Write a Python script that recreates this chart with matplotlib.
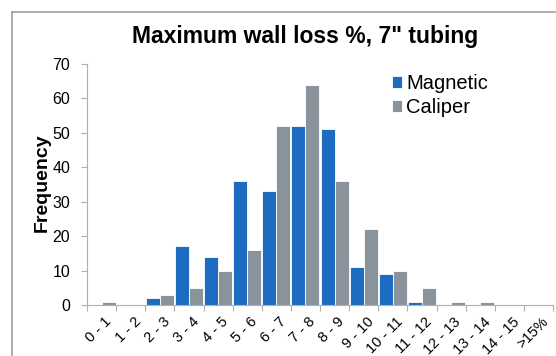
import matplotlib.pyplot as plt
import numpy as np
from matplotlib.lines import Line2D

plt.rcParams['font.family'] = ['Liberation Sans', 'DejaVu Sans']

categories = ['0 - 1', '1 - 2', '2 - 3', '3 - 4', '4 - 5', '5 - 6', '6 - 7', '7 - 8',
              '8 - 9', '9 - 10', '10 - 11', '11 - 12', '12 - 13', '13 - 14', '14 - 15', '>15%']
magnetic = [0, 0, 2, 17, 14, 36, 33, 52, 51, 11, 9, 1, 0, 0, 0, 0]
caliper = [1, 0, 3, 5, 10, 16, 52, 64, 36, 22, 10, 5, 1, 1, 0, 0]

blue = '#1c6dc1'
gray = '#8a939c'

fig = plt.figure(figsize=(5.56, 3.56), dpi=100)
ax = fig.add_axes([87/556, 1-305/356, 466/556, 241/356])

x = np.arange(len(categories))
w = 0.48
ax.bar(x + 0.5 - w, magnetic, w, align='edge', color=blue, edgecolor='white', linewidth=0.6, label='Magnetic')
ax.bar(x + 0.5, caliper, w, align='edge', color=gray, edgecolor='white', linewidth=0.6, label='Caliper')

ax.set_xlim(0, len(categories))
ax.set_ylim(0, 70)
ax.set_yticks(range(0, 71, 10))
ax.set_xticks(np.arange(len(categories) + 1), minor=False)
ax.set_xticklabels([])
ax.set_xticks(x + 0.6, minor=True)
ax.set_xticklabels(categories, minor=True, rotation=45, ha='right', va='top',
                   rotation_mode='anchor', fontsize=10.5)
ax.tick_params(axis='x', which='minor', length=0, pad=7)
ax.tick_params(axis='x', which='major', length=4, color='#b0b0b0')
ax.tick_params(axis='y', length=4, color='#b0b0b0', labelsize=11.5, pad=8)

for s in ['top', 'right']:
    ax.spines[s].set_visible(False)
ax.spines['left'].set_color('#b0b0b0')
ax.spines['bottom'].set_color('#b0b0b0')

fig.text(42/556, 1-183/356, 'Frequency', rotation=90, ha='center', va='center',
         fontsize=14, fontweight='bold')
fig.text(305/556, 1-36/356, 'Maximum wall loss %, 7" tubing', ha='center', va='center',
         fontsize=16.5, fontweight='bold')

ax.legend(loc='upper left', bbox_to_anchor=((392-87)/466, 1-(74-64)/241), frameon=False, fontsize=14.5,
          handlelength=0.5, handleheight=0.5, handletextpad=0.2, labelspacing=0.25,
          borderaxespad=0, borderpad=0)

fig.add_artist(Line2D([12/556, 12/556], [0, 1-12/356], color='#a0a0a0', lw=1.2))
fig.add_artist(Line2D([12/556, 1], [1-12/356, 1-12/356], color='#a0a0a0', lw=1.2))

fig.savefig('out.png', dpi=100)
